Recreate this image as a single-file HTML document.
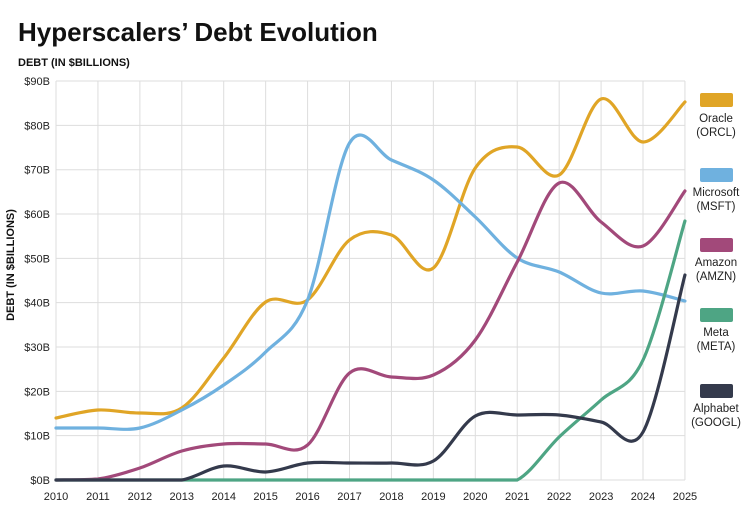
<!DOCTYPE html><html><head><style>body{margin:0;background:#fff}svg{font-family:"Liberation Sans",sans-serif}</style></head><body>
<svg id="s" width="756" height="515" xmlns="http://www.w3.org/2000/svg">
<text x="18" y="41" font-size="26" font-weight="bold" fill="#111">Hyperscalers’ Debt Evolution</text>
<text x="18" y="66" font-size="11" font-weight="bold" fill="#111">DEBT (IN $BILLIONS)</text>
<text transform="translate(14,265) rotate(-90)" font-size="11" font-weight="bold" fill="#111" text-anchor="middle">DEBT (IN $BILLIONS)</text>
<g id="grid"></g><g id="lines" fill="none" stroke-width="3.2" stroke-linecap="round"></g>
<g font-size="11.5" fill="#222" text-anchor="middle">
<rect x="700" y="93" width="33" height="14" rx="2" fill="#e0a526"/><text x="716" y="122">Oracle</text><text x="716" y="136">(ORCL)</text>
<rect x="700" y="168" width="33" height="14" rx="2" fill="#6fb1df"/><text x="716" y="196">Microsoft</text><text x="716" y="210">(MSFT)</text>
<rect x="700" y="238" width="33" height="14" rx="2" fill="#a2497a"/><text x="716" y="266">Amazon</text><text x="716" y="280">(AMZN)</text>
<rect x="700" y="308" width="33" height="14" rx="2" fill="#4ea584"/><text x="716" y="336">Meta</text><text x="716" y="350">(META)</text>
<rect x="700" y="384" width="33" height="14" rx="2" fill="#343a4c"/><text x="716" y="412">Alphabet</text><text x="716" y="426">(GOOGL)</text>
</g>
</svg>
<script>
const NS="http://www.w3.org/2000/svg",g=document.getElementById('grid'),L=document.getElementById('lines');
function el(p,t,a,txt){const e=document.createElementNS(NS,t);for(const k in a)e.setAttribute(k,a[k]);if(txt)e.textContent=txt;p.appendChild(e);}
for(let i=0;i<=9;i++){const y=480-i*44.33;el(g,'line',{x1:56,x2:685,y1:y,y2:y,stroke:'#ddd'});el(g,'text',{x:50,y:y+4,'font-size':11,'text-anchor':'end',fill:'#222'},'$'+i*10+'B');}
for(let i=0;i<=15;i++){const x=56+i*41.93;el(g,'line',{x1:x,x2:x,y1:81,y2:480,stroke:'#ddd'});el(g,'text',{x:x,y:500,'font-size':11,'text-anchor':'middle',fill:'#222'},2010+i);}
const X=i=>56+i*41.93;
const D=[
['#e0a526',[418,410,413,408,358,302,300,240,235,268,168,147,175,99,142,102]],
['#6fb1df',[428,428,428,410,385,352,300,143,160,180,217,258,272,293,291,301]],
['#a2497a',[480,479,468,451,444,444,445,373,377,375,340,262,183,222,246,191]],
['#4ea584',[480,480,480,480,480,480,480,480,480,480,480,480,437,400,360,221]],
['#343a4c',[480,480,480,480,466,472,463,463,463,461,416,415,415,422,432,275]]];
const cl=v=>Math.min(v,480);
D.forEach(([c,v])=>{const p=v.map((y,i)=>[X(i),y]);let d='M'+p[0];
for(let i=0;i<p.length-1;i++){const a=p[i-1]||p[i],b=p[i],e=p[i+1],f=p[i+2]||e;
const c1=[b[0]+(e[0]-a[0])/6,cl(b[1]+(e[1]-a[1])/6)],c2=[e[0]-(f[0]-b[0])/6,cl(e[1]-(f[1]-b[1])/6)];
d+=' C'+c1+' '+c2+' '+e;}el(L,'path',{d:d,stroke:c});});
</script></body></html>
